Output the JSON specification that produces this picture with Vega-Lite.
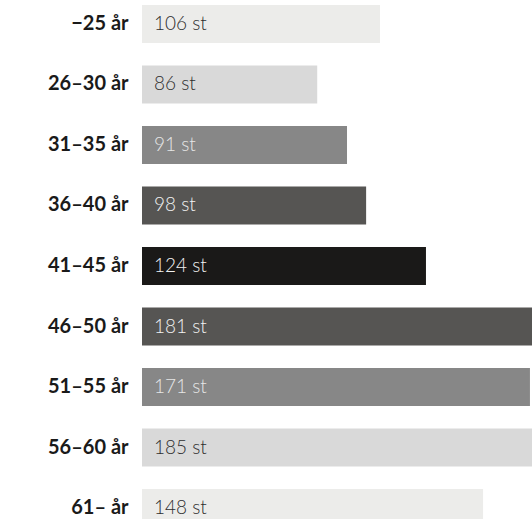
{
  "$schema": "https://vega.github.io/schema/vega-lite/v6.json",
  "width": 390,
  "height": 519,
  "autosize": {"type": "none"},
  "padding": {"left": 142, "top": 0, "right": 0, "bottom": 0},
  "background": "white",
  "config": {"view": {"stroke": null}, "font": "Lato"},
  "data": {
    "values": [
      {"age": "−25 år", "n": 106, "bar": 104.6, "label": "106 st"},
      {"age": "26–30 år", "n": 86, "bar": 77, "label": "86 st"},
      {"age": "31–35 år", "n": 91, "bar": 90.1, "label": "91 st"},
      {"age": "36–40 år", "n": 98, "bar": 98.5, "label": "98 st"},
      {"age": "41–45 år", "n": 124, "bar": 124.8, "label": "124 st"},
      {"age": "46–50 år", "n": 181, "bar": 181, "label": "181 st"},
      {"age": "51–55 år", "n": 171, "bar": 170.5, "label": "171 st"},
      {"age": "56–60 år", "n": 185, "bar": 185, "label": "185 st"},
      {"age": "61– år", "n": 148, "bar": 149.9, "label": "148 st"}
    ]
  },
  "encoding": {
    "y": {
      "field": "age",
      "type": "nominal",
      "sort": null,
      "scale": {"range": [0, 532], "paddingInner": 0.372, "paddingOuter": 0.0826},
      "axis": {
        "title": null,
        "domain": false,
        "ticks": false,
        "labelPadding": 14,
        "labelFontSize": 20,
        "labelFontWeight": "bold",
        "labelColor": "#1a1a1a",
        "labelFont": "Lato"
      }
    }
  },
  "layer": [
    {
      "mark": {"type": "bar", "clip": true},
      "encoding": {
        "x": {
          "field": "bar",
          "type": "quantitative",
          "scale": {"domain": [0, 171.4], "nice": false},
          "axis": null
        },
        "fill": {
          "field": "age",
          "type": "nominal",
          "sort": null,
          "legend": null,
          "scale": {
            "range": ["#ececea", "#d9d9d9", "#878787", "#565553", "#1a1918", "#565553", "#878787", "#d9d9d9", "#ececea"]
          }
        }
      }
    },
    {
      "mark": {"type": "text", "align": "left", "baseline": "middle", "dx": 12, "fontSize": 19, "fontWeight": 300, "font": "Lato", "clip": true},
      "encoding": {
        "x": {"datum": 0, "type": "quantitative"},
        "text": {"field": "label"},
        "color": {
          "field": "age",
          "type": "nominal",
          "sort": null,
          "legend": null,
          "scale": {
            "range": ["#2e2e2e", "#2e2e2e", "#e6e6e6", "#f2f2f2", "#f2f2f2", "#f2f2f2", "#e6e6e6", "#2e2e2e", "#2e2e2e"]
          }
        }
      }
    }
  ]
}
